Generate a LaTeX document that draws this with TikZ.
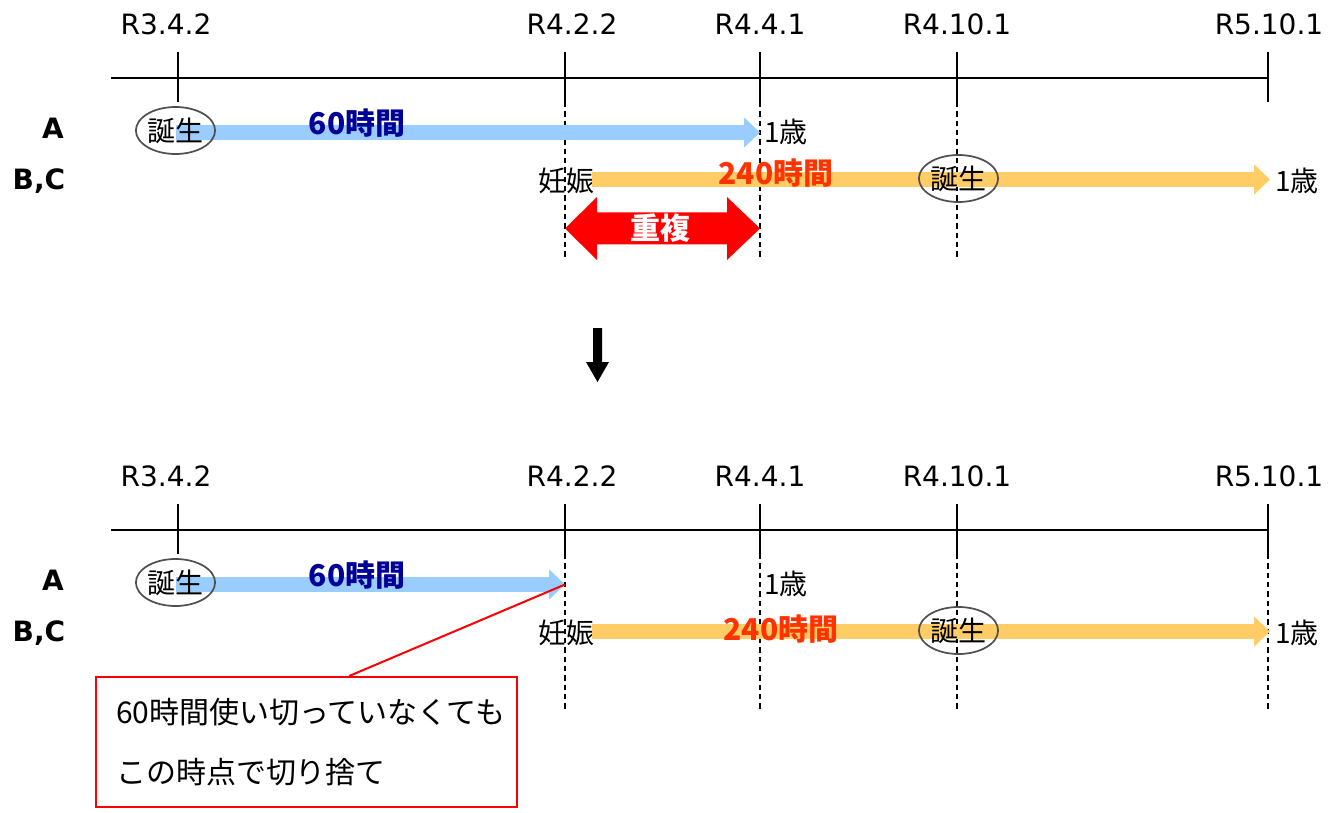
\documentclass[tikz,border=0pt]{standalone}
\usepackage{fontspec}
\setmainfont{DejaVu Sans}
\newfontfamily\jp{Noto Sans CJK JP}
\usetikzlibrary{arrows.meta,calc,shapes.geometric}
\definecolor{barblue}{HTML}{99CCFF}
\definecolor{barorange}{HTML}{FFCC66}
\definecolor{txtblue}{HTML}{000099}
\definecolor{txtred}{HTML}{FF3300}
\definecolor{ellgray}{HTML}{505050}
\tikzset{
  datelbl/.style={font=\fontsize{21}{25}\selectfont, inner sep=0pt},
  rowlbl/.style={font=\fontsize{21}{25}\selectfont\bfseries, inner sep=0pt},
  jptxt/.style={font=\jp\fontsize{21}{25}\selectfont, inner sep=0pt},
  hourblue/.style={font=\jp\fontsize{22.5}{26}\selectfont\bfseries, text=txtblue, inner sep=0pt},
  hourred/.style={font=\jp\fontsize{22.5}{26}\selectfont\bfseries, text=txtred, inner sep=0pt},
  birth/.style={ellipse, draw=ellgray, line width=1.3pt, minimum width=57.75pt, minimum height=35.25pt, inner sep=0pt, font=\jp\fontsize{21}{25}\selectfont},
  axisline/.style={line width=0.9pt, black},
  tickline/.style={line width=0.9pt, black},
  dashline/.style={line width=0.8pt, black, dash pattern=on 4pt off 3pt},
  bluebar/.style={line width=11.25pt, barblue, -{Triangle[length=12pt,width=22pt]}},
  orangebar/.style={line width=11.25pt, barorange, -{Triangle[length=12pt,width=22pt]}},
  callout/.style={draw=red, line width=1.5pt, rectangle, minimum width=315.75pt, minimum height=97.5pt, inner xsep=15pt, text width=285.75pt, align=left, font=\jp\fontsize{22.5}{45}\selectfont},
}
\newcommand\timelinebase{%
  \node[datelbl] (d1) at (166,24) {R3.4.2};
  \node[datelbl] (d2) at (572,24) {R4.2.2};
  \node[datelbl] (d3) at (760,24) {R4.4.1};
  \node[datelbl] (d4) at (957,24) {R4.10.1};
  \node[datelbl] (d5) at (1269,24) {R5.10.1};
  \coordinate (axL) at (111,78);
  \coordinate (axR) at (1268,78);
  \draw[axisline] (axL) -- (axR);
  \foreach \xx/\nm in {178/t1,565/t2,760/t3,957/t4,1268/t5}{
    \coordinate (\nm top) at (\xx,52);
    \coordinate (\nm mid) at (\xx,102);
    \coordinate (\nm bot) at (\xx,260);
    \draw[tickline] (\nm top) -- (\nm mid);
  }
  \foreach \nm in {t2,t3,t4}{\draw[dashline] (\nm mid) -- (\nm bot);}
  \node[rowlbl] (rowA) at (53,128) {A};
  \node[rowlbl] (rowBC) at (39,181) {B,C};
  \node[jptxt] (ninshin) at (566,181) {妊娠};
  \node[jptxt, anchor=west] (ageBC) at (1275,181) {1歳};
  \node[jptxt, anchor=west] (ageA) at (764,132) {1歳};
}
\begin{document}
\begin{tikzpicture}[x=0.75pt,y=-0.75pt]
\useasboundingbox (0,0) rectangle (1329,813);
% ---------------- top section
\begin{scope}[name prefix=u-]
  \timelinebase
  \coordinate (aStart) at (176,132.5);
  \coordinate (aEnd) at (760,132.5);
  \coordinate (bStart) at (592,179.5);
  \coordinate (bEnd) at (1270,179.5);
  \draw[bluebar] (aStart) -- (aEnd);
  \draw[orangebar] (bStart) -- (bEnd);
  \node[birth] (birthA) at (175.5,130.5) {誕生};
  \node[birth] (birthBC) at (958.5,178.5) {誕生};
  \node[hourblue] (hA) at (357,123) {60時間};
  \node[hourred] (hBC) at (776,173) {240時間};
  % overlap double arrow
  \fill[red] (565,228.5) -- (597,197) -- (597,212.5) -- (727,212.5) -- (727,197)
        -- (760,228.5) -- (727,260) -- (727,244.5) -- (597,244.5) -- (597,260) -- cycle;
  \node[font=\jp\fontsize{22.5}{26}\selectfont\bfseries, text=white, inner sep=0pt] (ovl) at (660,228) {重複};
\end{scope}
% ---------------- down arrow
\fill[black] (593,328) -- (602,328) -- (602,362) -- (609,362) -- (597.5,382)
   -- (586,362) -- (593,362) -- cycle;
% ---------------- bottom section
\begin{scope}[shift={(0,452)}, name prefix=l-]
  \timelinebase
  \draw[dashline] (t5mid) -- (t5bot);
  \coordinate (aStart) at (176,132.5);
  \coordinate (aEnd) at (565,132.5);
  \coordinate (bStart) at (592,179.5);
  \coordinate (bEnd) at (1270,179.5);
  \draw[bluebar] (aStart) -- (aEnd);
  \draw[orangebar] (bStart) -- (bEnd);
  \node[birth] (birthA) at (175.5,130.5) {誕生};
  \node[birth] (birthBC) at (958.5,178.5) {誕生};
  \node[hourblue] (hA) at (357,123) {60時間};
  \node[hourred] (hBC) at (781,177) {240時間};
  \node[callout] (note) at (306.5,290) {60時間使い切っていなくても\\この時点で切り捨て};
  \draw[red, line width=1.5pt] (aEnd) -- ([xshift=32pt]note.north);
\end{scope}
\end{tikzpicture}
\end{document}
